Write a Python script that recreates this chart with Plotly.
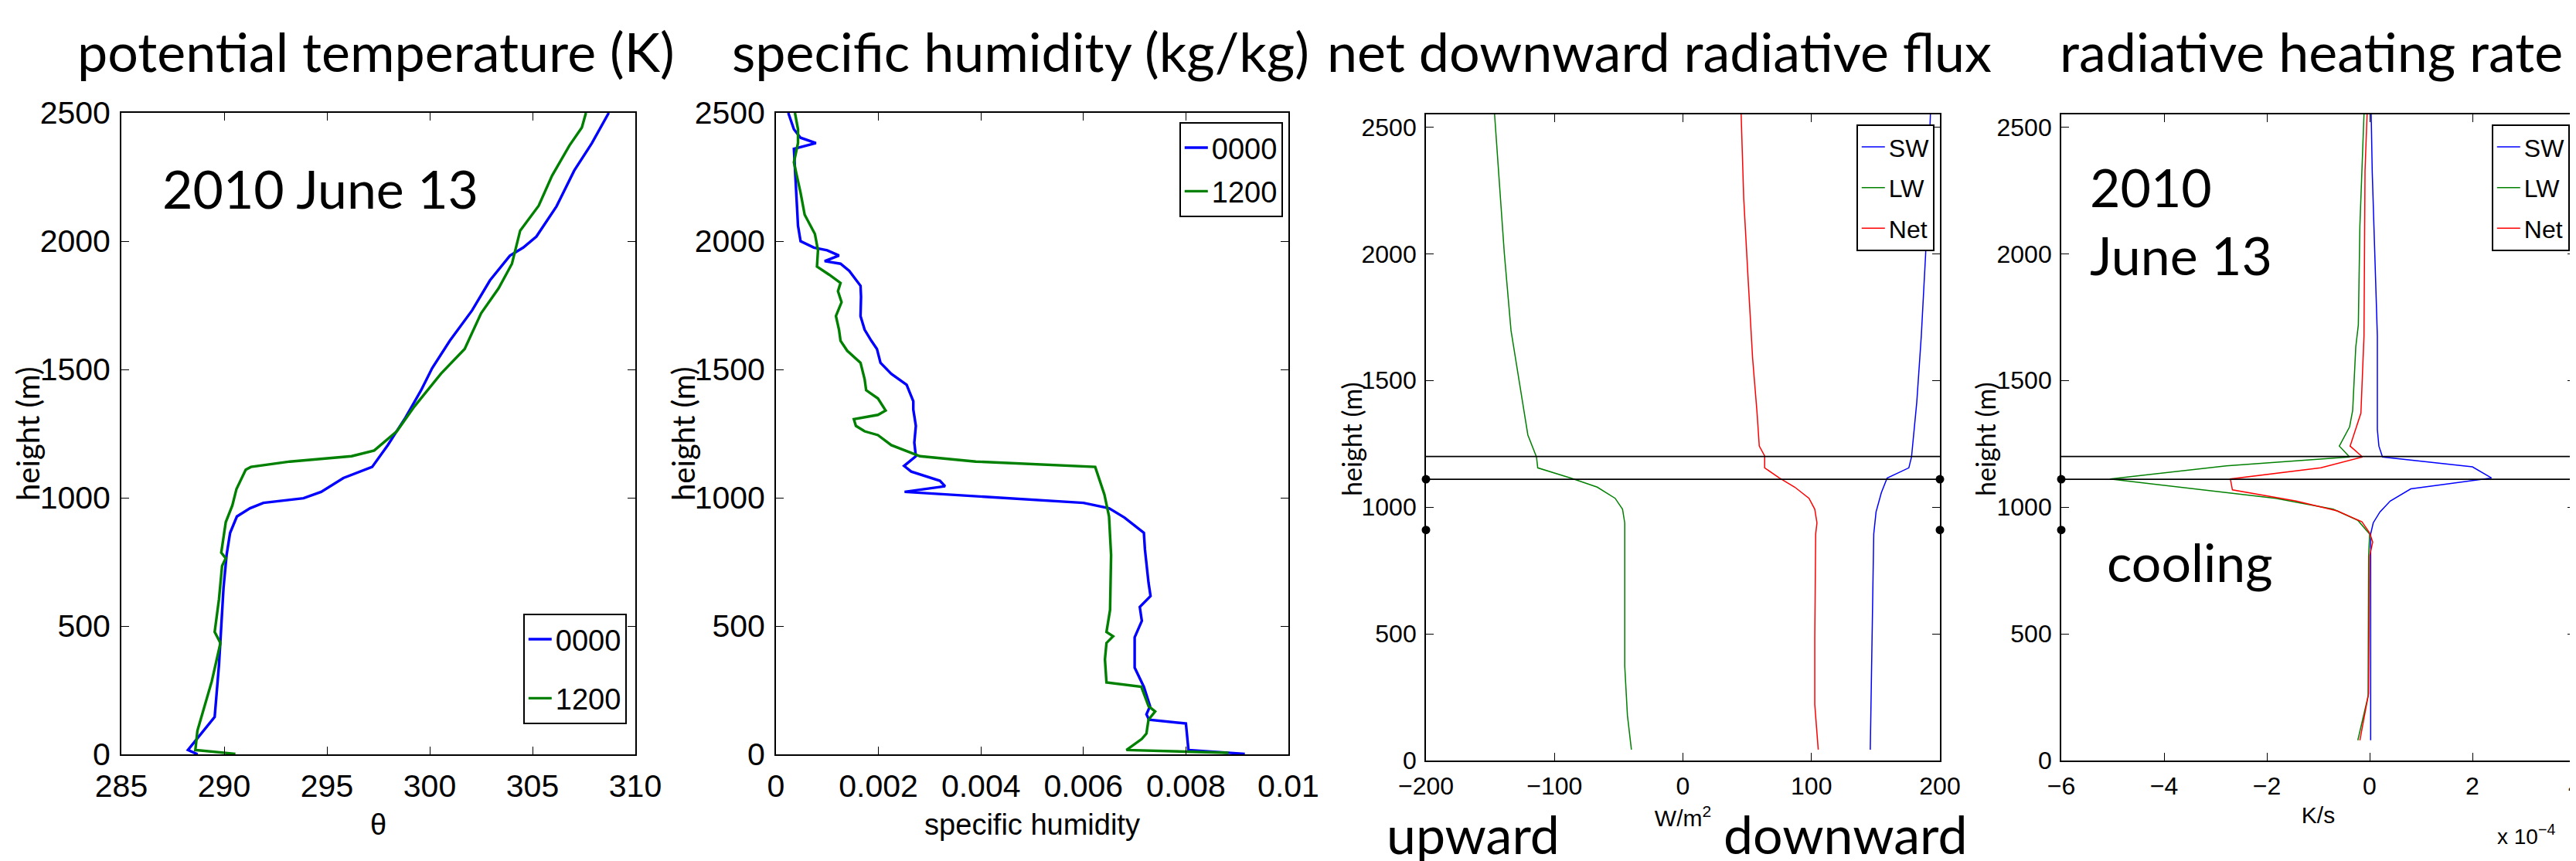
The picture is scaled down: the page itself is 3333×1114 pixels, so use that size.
import plotly.graph_objects as go

# ---------------- data ----------------
# Panel 1: potential temperature (K) vs height (m)
theta0000_h = [0, 17, 146, 231, 349, 499, 649, 777, 863, 927, 959, 980, 998, 1023, 1077, 1120, 1205,
               1312, 1419, 1505, 1612, 1730, 1847, 1943, 1975, 2018, 2136, 2275, 2382, 2500]
theta0000 = [288.71, 288.24, 289.54, 289.64, 289.75, 289.86, 289.97, 290.12, 290.29, 290.62, 291.26,
             291.91, 293.86, 294.72, 295.8, 297.2, 297.96, 298.82, 299.58, 300.12, 300.98, 302.06,
             302.93, 303.9, 304.55, 305.19, 306.17, 307.03, 307.89, 308.71]
theta1200_h = [2, 17, 92, 200, 285, 434, 477, 605, 734, 764, 786, 905, 970, 1034, 1109, 1120, 1141,
               1162, 1184, 1259, 1355, 1484, 1580, 1719, 1816, 1912, 2041, 2138, 2255, 2373, 2443, 2500]
theta1200 = [290.55, 288.6, 288.7, 289.1, 289.4, 289.82, 289.54, 289.75, 289.9, 290.08, 289.86, 290.08,
             290.4, 290.6, 291.05, 291.3, 293.2, 296.2, 297.3, 298.4, 299.25, 300.55, 301.7, 302.5,
             303.35, 304.0, 304.4, 305.3, 305.95, 306.8, 307.4, 307.6]

# Panel 2: specific humidity (kg/kg) vs height (m)
q0000_h = [2, 17, 120, 135, 156, 188, 263, 338, 456, 520, 574, 617, 670, 799, 863, 923, 959, 980, 1023,
           1045, 1066, 1102, 1124, 1162, 1215, 1280, 1344, 1376, 1440, 1483, 1526, 1580, 1612, 1655,
           1708, 1783, 1826, 1884, 1912, 1922, 1944, 1964, 1975, 2000, 2060, 2210, 2360, 2382, 2403,
           2436, 2500]
q0000 = [0.00915, 0.00805, 0.0080, 0.00728, 0.00723, 0.0073, 0.00718, 0.0070, 0.0070, 0.00714, 0.0071,
         0.00731, 0.00727, 0.0072, 0.00718, 0.0068, 0.0065, 0.0060, 0.00251, 0.0033, 0.0032, 0.00264,
         0.0025, 0.00273, 0.0027, 0.00273, 0.00268, 0.00268, 0.00255, 0.00225, 0.00204, 0.00197,
         0.00186, 0.00173, 0.00165, 0.00166, 0.00165, 0.00143, 0.00126, 0.00095, 0.00123, 0.0010,
         0.00074, 0.00048, 0.00043, 0.00039, 0.00035, 0.00078, 0.00048, 0.00035, 0.00024]
q1200_h = [6, 17, 60, 81, 135, 167, 188, 263, 280, 370, 434, 460, 477, 563, 777, 927, 1012, 1120, 1141,
           1162, 1205, 1244, 1259, 1280, 1306, 1323, 1340, 1387, 1419, 1462, 1526, 1573, 1612, 1655,
           1708, 1762, 1805, 1837, 1869, 1901, 1964, 2028, 2103, 2189, 2307, 2382, 2436, 2500]
q1200 = [0.00883, 0.00684, 0.00714, 0.00723, 0.00727, 0.0074, 0.00727, 0.00713, 0.00645, 0.00642,
         0.00645, 0.00658, 0.00645, 0.00652, 0.00654, 0.0065, 0.00641, 0.00623, 0.0039, 0.00281,
         0.00225, 0.00199, 0.00173, 0.00156, 0.00152, 0.00199, 0.00214, 0.00199, 0.00176, 0.00173,
         0.00165, 0.00139, 0.00126, 0.00123, 0.00117, 0.00128, 0.00121, 0.00126, 0.00104, 0.0008,
         0.00082, 0.00076, 0.00056, 0.00048, 0.00035, 0.00043, 0.00043, 0.00037]

# Panel 3: net downward radiative flux (W/m^2)
flux_sw_h = [43, 590, 894, 981, 1057, 1115, 1155, 1198, 1415, 1675, 2001, 2550]
flux_sw = [145.8, 147.5, 148.5, 150.3, 154.4, 158.9, 175.8, 177.9, 182.0, 185.5, 188.9, 192.6]
flux_lw_h = [43, 178, 373, 938, 992, 1035, 1079, 1115, 1155, 1198, 1285, 1480, 1697, 2001, 2326, 2550]
flux_lw = [-40.1, -43.2, -45.3, -45.3, -47.0, -52.8, -66.7, -87.4, -113.0, -114.0, -120.7, -126.9,
           -133.8, -139.0, -143.5, -146.6]
flux_net_h = [43, 221, 482, 894, 938, 992, 1035, 1079, 1115, 1155, 1202, 1241, 1371, 1589, 1893, 2218, 2550]
flux_net = [105.3, 102.6, 102.6, 103.3, 104.3, 102.6, 98.1, 87.0, 75.0, 63.6, 63.6, 59.4, 57.7, 54.2,
            50.8, 47.3, 45.3]

# Panel 4: radiative heating rate (units of 1e-4 K/s)
heat_sw_h = [80, 894, 938, 981, 1024, 1072, 1115, 1159, 1198, 1241, 1306, 1675, 2001, 2326, 2550]
heat_sw = [0.02, 0.02, 0.07, 0.2, 0.4, 0.8, 2.37, 2.0, 0.25, 0.18, 0.15, 0.15, 0.1, 0.05, 0.03]
heat_lw_h = [80, 254, 807, 894, 948, 992, 1035, 1057, 1111, 1163, 1198, 1241, 1317, 1382, 1632, 1719, 2109, 2550]
heat_lw = [-0.23, -0.03, -0.02, 0.0, -0.23, -0.71, -1.83, -2.79, -5.05, -2.79, -0.39, -0.59, -0.39,
           -0.33, -0.27, -0.22, -0.19, -0.11]
heat_net_h = [80, 265, 807, 862, 898, 942, 985, 1024, 1068, 1111, 1155, 1198, 1241, 1371, 1675, 2326, 2550]
heat_net = [-0.19, -0.02, 0.0, 0.06, 0.0, -0.15, -0.63, -1.43, -2.67, -2.71, -0.95, -0.14, -0.38,
            -0.17, -0.11, -0.09, -0.05]

# inversion markers (heights, m)
inversion_lines = [1200, 1110]
inversion_dots = [1110, 910]

# labels
titles = ["potential temperature (K)", "specific humidity (kg/kg)",
          "net downward radiative flux", "radiative heating rate"]
series_names_time = ["0000", "1200"]
series_names_rad = ["SW", "LW", "Net"]
ytitle = "height (m)"

# ---------------- styling ----------------
W, H = 3333, 1114
TITLE_FONT = "Lato, 'Open Sans', sans-serif"
TICK_FONT = "'Liberation Sans Narrow', 'Liberation Sans', Arial, sans-serif"
BLUE, GREEN, RED = "#0000ff", "#008000", "#ff0000"


def px_x(p):
    return p / W


def px_y(p):
    return 1 - p / H


# panel boxes in pixels (left, right, top, bottom)
boxes = [(149, 814, 138, 968), (996, 1659, 138, 968), (1837, 2502, 140, 976), (2659, 3324, 140, 976)]

fig = go.Figure()

# panel 1
fig.add_trace(go.Scatter(x=theta0000, y=theta0000_h, mode="lines", name=series_names_time[0],
                         line=dict(color=BLUE, width=3.4), xaxis="x", yaxis="y", legend="legend",
                         legendgroup="a"))
fig.add_trace(go.Scatter(x=theta1200, y=theta1200_h, mode="lines", name=series_names_time[1],
                         line=dict(color=GREEN, width=3.4), xaxis="x", yaxis="y", legend="legend",
                         legendgroup="b"))
# panel 2
fig.add_trace(go.Scatter(x=q0000, y=q0000_h, mode="lines", name=series_names_time[0],
                         line=dict(color=BLUE, width=3.4), xaxis="x2", yaxis="y2", legend="legend2",
                         legendgroup="c"))
fig.add_trace(go.Scatter(x=q1200, y=q1200_h, mode="lines", name=series_names_time[1],
                         line=dict(color=GREEN, width=3.4), xaxis="x2", yaxis="y2", legend="legend2",
                         legendgroup="d"))
# panel 3
for nm, xv, yv, col, g in [(series_names_rad[0], flux_sw, flux_sw_h, BLUE, "e"),
                           (series_names_rad[1], flux_lw, flux_lw_h, GREEN, "f"),
                           (series_names_rad[2], flux_net, flux_net_h, RED, "g")]:
    fig.add_trace(go.Scatter(x=xv, y=yv, mode="lines", name=nm, line=dict(color=col, width=1.5),
                             xaxis="x3", yaxis="y3", legend="legend3", legendgroup=g))
# panel 4
for nm, xv, yv, col, g in [(series_names_rad[0], heat_sw, heat_sw_h, BLUE, "h"),
                           (series_names_rad[1], heat_lw, heat_lw_h, GREEN, "i"),
                           (series_names_rad[2], heat_net, heat_net_h, RED, "j")]:
    fig.add_trace(go.Scatter(x=xv, y=yv, mode="lines", name=nm, line=dict(color=col, width=1.5),
                             xaxis="x4", yaxis="y4", legend="legend4", legendgroup=g))

# inversion dots on panel edges
for xa, ya, xr in [("x3", "y3", (-200, 200)), ("x4", "y4", (-6, 4))]:
    for hh in inversion_dots:
        fig.add_trace(go.Scatter(x=list(xr), y=[hh, hh], mode="markers",
                                 marker=dict(color="black", size=11), cliponaxis=False,
                                 showlegend=False, xaxis=xa, yaxis=ya, hoverinfo="skip"))
for i in range(2):
    for hh in inversion_lines:
        fig.add_shape(type="line", xref=f"x{3 + i} domain", yref=f"y{3 + i}", x0=0, x1=1, y0=hh, y1=hh,
                      line=dict(color="black", width=1.8))


def axis_common(tick_size):
    return dict(showline=True, linecolor="black", linewidth=1.8, mirror="ticks", ticks="inside",
                ticklen=10, tickwidth=1.2, tickcolor="black", showgrid=False, zeroline=False,
                automargin=False, ticklabelstandoff=4,
                tickfont=dict(family=TICK_FONT, size=tick_size, color="black"))


layout = dict(width=W, height=H, paper_bgcolor="white", plot_bgcolor="white",
              margin=dict(l=0, r=0, t=0, b=0, autoexpand=False), showlegend=True)

xranges = [[285, 310], [0, 0.01], [-200, 200], [-6, 4]]
yranges = [[0, 2500], [0, 2500], [0, 2550], [0, 2550]]
xticks = [[285, 290, 295, 300, 305, 310], [0, 0.002, 0.004, 0.006, 0.008, 0.01],
          [-200, -100, 0, 100, 200], [-6, -4, -2, 0, 2, 4]]
xticktext = [[str(v) for v in xticks[0]], ["0", "0.002", "0.004", "0.006", "0.008", "0.01"],
             ["\u2212200", "\u2212100", "0", "100", "200"],
             ["\u22126", "\u22124", "\u22122", "0", "2", "4"]]
xtitles = ["\u03b8", "specific humidity", "W/m<sup>2</sup>", "K/s"]
tick_sizes = [41, 41, 32, 32]
xtitle_sizes = [38, 38, 30, 30]
xtitle_standoff = [14, 14, 14, 10]

for i in range(4):
    l, r, t, b = boxes[i]
    sfx = "" if i == 0 else str(i + 1)
    xa = axis_common(tick_sizes[i])
    xa.update(domain=[px_x(l), px_x(r)], range=xranges[i], anchor="y" + sfx,
              tickvals=xticks[i], ticktext=xticktext[i],
              title=dict(text=xtitles[i], font=dict(family=TICK_FONT, size=xtitle_sizes[i], color="black"),
                         standoff=xtitle_standoff[i]))
    ya = axis_common(tick_sizes[i])
    ya.update(domain=[px_y(b), px_y(t)], range=yranges[i], anchor="x" + sfx,
              tickvals=[0, 500, 1000, 1500, 2000, 2500])
    layout["xaxis" + sfx] = xa
    layout["yaxis" + sfx] = ya

legend_base = dict(bgcolor="white", bordercolor="black", borderwidth=1.8, xanchor="right",
                   itemwidth=30)
layout["legend"] = dict(legend_base, x=px_x(803), y=px_y(929), yanchor="bottom",
                        font=dict(family=TICK_FONT, size=38, color="black"), tracegroupgap=24)
layout["legend2"] = dict(legend_base, x=px_x(1652), y=px_y(150), yanchor="top",
                         font=dict(family=TICK_FONT, size=38, color="black"), tracegroupgap=4)
layout["legend3"] = dict(legend_base, x=px_x(2495), y=px_y(153), yanchor="top",
                         font=dict(family=TICK_FONT, size=32, color="black"), tracegroupgap=8)
layout["legend4"] = dict(legend_base, x=px_x(3317), y=px_y(153), yanchor="top",
                         font=dict(family=TICK_FONT, size=32, color="black"), tracegroupgap=8)

fig.update_layout(**layout)

# y-axis titles (rotated)
ytitle_pos = [(28, 553, 40), (876, 553, 40), (1740, 560, 34), (2560, 560, 34)]
for cx, cy, fs in ytitle_pos:
    fig.add_annotation(text=ytitle, x=px_x(cx), y=px_y(cy), xref="paper", yref="paper",
                       xanchor="center", yanchor="middle", showarrow=False, textangle=-90,
                       font=dict(family=TITLE_FONT, size=fs, color="black"))

# titles
title_centers = [478, 1312, 2139, 2982]
for txt, cx in zip(titles, title_centers):
    fig.add_annotation(text=txt, x=px_x(cx), y=px_y(58), xref="paper", yref="paper",
                       xanchor="center", yanchor="middle", showarrow=False,
                       font=dict(family=TITLE_FONT, size=70, color="black"))

big = dict(family=TITLE_FONT, size=68, color="black")
fig.add_annotation(text="2010 June 13", x=px_x(200), y=px_y(236), xref="paper", yref="paper",
                   xanchor="left", yanchor="middle", showarrow=False, font=big)
fig.add_annotation(text="2010", x=px_x(2694), y=px_y(234), xref="paper", yref="paper",
                   xanchor="left", yanchor="middle", showarrow=False, font=big)
fig.add_annotation(text="June 13", x=px_x(2694), y=px_y(322), xref="paper", yref="paper",
                   xanchor="left", yanchor="middle", showarrow=False, font=big)
fig.add_annotation(text="cooling", x=px_x(2716), y=px_y(718), xref="paper", yref="paper",
                   xanchor="left", yanchor="middle", showarrow=False, font=big)
fig.add_annotation(text="upward", x=px_x(1784), y=px_y(1028), xref="paper", yref="paper",
                   xanchor="left", yanchor="top", showarrow=False, font=big)
fig.add_annotation(text="downward", x=px_x(2220), y=px_y(1028), xref="paper", yref="paper",
                   xanchor="left", yanchor="top", showarrow=False, font=big)
fig.add_annotation(text="x 10<sup>\u22124</sup>", x=px_x(3300), y=px_y(1072), xref="paper", yref="paper",
                   xanchor="right", yanchor="middle", showarrow=False,
                   font=dict(family=TICK_FONT, size=28, color="black"))

fig.write_html("out.html")
